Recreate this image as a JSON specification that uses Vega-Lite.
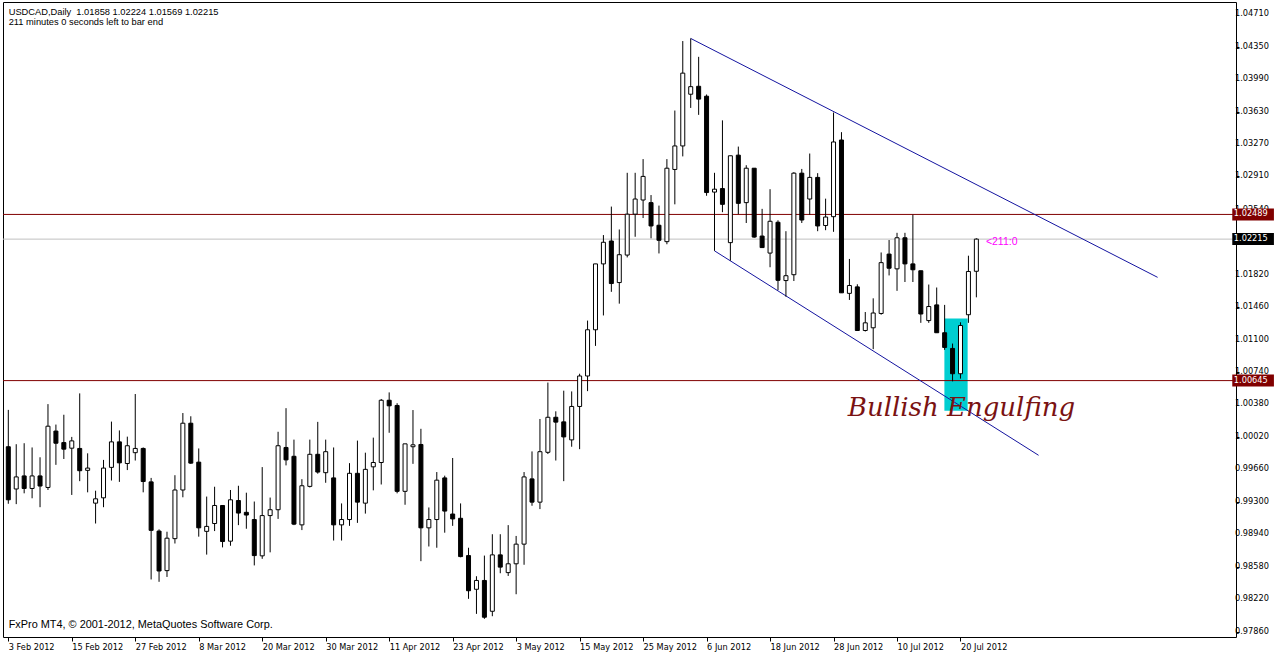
{
"$schema":"https://vega.github.io/schema/vega-lite/v6.json",
"width":1233,"height":635,
"autosize":{"type":"none"},
"padding":{"left":3,"top":2,"right":38,"bottom":20},
"background":"white",
"config":{"view":{"stroke":"black","strokeWidth":1},
 "axis":{"grid":false,"domain":false,"labelFont":"DejaVu Sans","labelFontSize":8.2,"labelColor":"black","tickColor":"black","labelOverlap":false}},
"datasets":{
"candles":[
{"i":0,"o":0.99911,"h":1.00320,"l":0.99278,"c":0.99322},
{"i":1,"o":0.99442,"h":0.99939,"l":0.99274,"c":0.99576},
{"i":2,"o":0.99587,"h":0.99950,"l":0.99394,"c":0.99448},
{"i":3,"o":0.99448,"h":0.99903,"l":0.99339,"c":0.99587},
{"i":4,"o":0.99587,"h":0.99794,"l":0.99240,"c":0.99475},
{"i":5,"o":0.99459,"h":1.00384,"l":0.99431,"c":1.00139},
{"i":6,"o":1.00085,"h":1.00157,"l":0.99710,"c":0.99950},
{"i":7,"o":0.99957,"h":1.00266,"l":0.99775,"c":0.99884},
{"i":8,"o":0.99895,"h":1.00020,"l":0.99376,"c":0.99976},
{"i":9,"o":0.99892,"h":1.00503,"l":0.99529,"c":0.99645},
{"i":10,"o":0.99649,"h":0.99838,"l":0.99405,"c":0.99674},
{"i":11,"o":0.99285,"h":0.99423,"l":0.99059,"c":0.99333},
{"i":12,"o":0.99344,"h":0.99765,"l":0.99240,"c":0.99674},
{"i":13,"o":0.99682,"h":1.00190,"l":0.99536,"c":0.99965},
{"i":14,"o":0.99965,"h":1.00092,"l":0.99521,"c":0.99732},
{"i":15,"o":0.99725,"h":1.00023,"l":0.99652,"c":0.99922},
{"i":16,"o":0.99845,"h":1.00496,"l":0.99758,"c":0.99892},
{"i":17,"o":0.99892,"h":0.99903,"l":0.99405,"c":0.99525},
{"i":18,"o":0.99521,"h":0.99565,"l":0.98438,"c":0.98983},
{"i":19,"o":0.98975,"h":0.98994,"l":0.98412,"c":0.98532},
{"i":20,"o":0.98536,"h":0.98968,"l":0.98466,"c":0.98896},
{"i":21,"o":0.98891,"h":0.99595,"l":0.98837,"c":0.99431},
{"i":22,"o":0.99431,"h":1.00285,"l":0.99350,"c":1.00172},
{"i":23,"o":1.00172,"h":1.00249,"l":0.99721,"c":0.99729},
{"i":24,"o":0.99740,"h":0.99892,"l":0.98913,"c":0.99011},
{"i":25,"o":0.98972,"h":0.99358,"l":0.98714,"c":0.99027},
{"i":26,"o":0.99059,"h":0.99467,"l":0.98975,"c":0.99259},
{"i":27,"o":0.99259,"h":0.99259,"l":0.98794,"c":0.98859},
{"i":28,"o":0.98863,"h":0.99431,"l":0.98812,"c":0.99322},
{"i":29,"o":0.99314,"h":0.99478,"l":0.99041,"c":0.99175},
{"i":30,"o":0.99183,"h":0.99401,"l":0.99001,"c":0.99153},
{"i":31,"o":0.99103,"h":0.99303,"l":0.98594,"c":0.98703},
{"i":32,"o":0.98700,"h":0.99685,"l":0.98667,"c":0.99147},
{"i":33,"o":0.99147,"h":0.99347,"l":0.98739,"c":0.99212},
{"i":34,"o":0.99212,"h":1.00077,"l":0.99110,"c":0.99922},
{"i":35,"o":0.99903,"h":1.00339,"l":0.99704,"c":0.99765},
{"i":36,"o":0.99805,"h":0.99990,"l":0.99041,"c":0.99052},
{"i":37,"o":0.99044,"h":0.99551,"l":0.98986,"c":0.99478},
{"i":38,"o":0.99471,"h":0.99990,"l":0.99459,"c":0.99827},
{"i":39,"o":0.99827,"h":1.00187,"l":0.99612,"c":0.99630},
{"i":40,"o":0.99623,"h":0.99990,"l":0.99511,"c":0.99856},
{"i":41,"o":0.99565,"h":0.99903,"l":0.98870,"c":0.99044},
{"i":42,"o":0.99044,"h":0.99282,"l":0.98870,"c":0.99103},
{"i":43,"o":0.99103,"h":0.99729,"l":0.99033,"c":0.99616},
{"i":44,"o":0.99616,"h":0.99979,"l":0.99066,"c":0.99296},
{"i":45,"o":0.99285,"h":0.99845,"l":0.99169,"c":0.99660},
{"i":46,"o":0.99688,"h":1.00012,"l":0.99427,"c":0.99736},
{"i":47,"o":0.99736,"h":1.00441,"l":0.99492,"c":1.00427},
{"i":48,"o":1.00427,"h":1.00514,"l":1.00066,"c":1.00365},
{"i":49,"o":1.00369,"h":1.00394,"l":0.99394,"c":0.99416},
{"i":50,"o":0.99416,"h":0.99943,"l":0.99267,"c":0.99943},
{"i":51,"o":0.99911,"h":1.00318,"l":0.99721,"c":0.99932},
{"i":52,"o":0.99936,"h":1.00110,"l":0.98641,"c":0.99011},
{"i":53,"o":0.99011,"h":0.99237,"l":0.98804,"c":0.99103},
{"i":54,"o":0.99103,"h":0.99630,"l":0.98790,"c":0.99540},
{"i":55,"o":0.99565,"h":0.99590,"l":0.98957,"c":0.99197},
{"i":56,"o":0.99164,"h":0.99786,"l":0.99033,"c":0.99110},
{"i":57,"o":0.99117,"h":0.99282,"l":0.98684,"c":0.98692},
{"i":58,"o":0.98703,"h":0.98790,"l":0.98223,"c":0.98313},
{"i":59,"o":0.98329,"h":0.98474,"l":0.98056,"c":0.98427},
{"i":60,"o":0.98427,"h":0.98703,"l":0.98001,"c":0.98019},
{"i":61,"o":0.98085,"h":0.98940,"l":0.98030,"c":0.98711},
{"i":62,"o":0.98711,"h":0.98940,"l":0.98507,"c":0.98575},
{"i":63,"o":0.98514,"h":0.99041,"l":0.98477,"c":0.98612},
{"i":64,"o":0.98612,"h":0.98921,"l":0.98274,"c":0.98830},
{"i":65,"o":0.98830,"h":0.99630,"l":0.98601,"c":0.99576},
{"i":66,"o":0.99554,"h":0.99859,"l":0.99256,"c":0.99296},
{"i":67,"o":0.99296,"h":1.00219,"l":0.99219,"c":0.99856},
{"i":68,"o":0.99849,"h":1.00623,"l":0.99830,"c":1.00238},
{"i":69,"o":1.00238,"h":1.00304,"l":0.99758,"c":1.00184},
{"i":70,"o":1.00187,"h":1.00533,"l":0.99529,"c":1.00020},
{"i":71,"o":0.99987,"h":1.00525,"l":0.99911,"c":1.00358},
{"i":72,"o":1.00358,"h":1.00721,"l":0.99884,"c":1.00696},
{"i":73,"o":1.00696,"h":1.01311,"l":1.00528,"c":1.01209},
{"i":74,"o":1.01209,"h":1.01940,"l":1.01030,"c":1.01940},
{"i":75,"o":1.01940,"h":1.02260,"l":1.01368,"c":1.02180},
{"i":76,"o":1.02194,"h":1.02576,"l":1.01630,"c":1.01722},
{"i":77,"o":1.01733,"h":1.02322,"l":1.01499,"c":1.02042},
{"i":78,"o":1.02038,"h":1.02951,"l":1.02012,"c":1.02492},
{"i":79,"o":1.02492,"h":1.02951,"l":1.02241,"c":1.02660},
{"i":80,"o":1.02649,"h":1.03103,"l":1.02449,"c":1.02911},
{"i":81,"o":1.02620,"h":1.02704,"l":1.02224,"c":1.02361},
{"i":82,"o":1.02369,"h":1.02587,"l":1.02056,"c":1.02202},
{"i":83,"o":1.02187,"h":1.03103,"l":1.02158,"c":1.03002},
{"i":84,"o":1.02988,"h":1.03642,"l":1.02601,"c":1.03249},
{"i":85,"o":1.03249,"h":1.04413,"l":1.03133,"c":1.04057},
{"i":86,"o":1.03823,"h":1.04442,"l":1.03671,"c":1.03907},
{"i":87,"o":1.03911,"h":1.04238,"l":1.03594,"c":1.03769},
{"i":88,"o":1.03801,"h":1.03820,"l":1.02696,"c":1.02732},
{"i":89,"o":1.02737,"h":1.02951,"l":1.02085,"c":1.02769},
{"i":90,"o":1.02776,"h":1.03533,"l":1.02514,"c":1.02601},
{"i":91,"o":1.02176,"h":1.03140,"l":1.01976,"c":1.03140},
{"i":92,"o":1.03147,"h":1.03242,"l":1.02492,"c":1.02612},
{"i":93,"o":1.02620,"h":1.03035,"l":1.02394,"c":1.03002},
{"i":94,"o":1.03002,"h":1.03002,"l":1.02230,"c":1.02238},
{"i":95,"o":1.02249,"h":1.02551,"l":1.02121,"c":1.02121},
{"i":96,"o":1.02060,"h":1.02769,"l":1.01903,"c":1.02413},
{"i":97,"o":1.02402,"h":1.02424,"l":1.01649,"c":1.01758},
{"i":98,"o":1.01755,"h":1.02303,"l":1.01576,"c":1.01809},
{"i":99,"o":1.01820,"h":1.02958,"l":1.01750,"c":1.02947},
{"i":100,"o":1.02947,"h":1.02994,"l":1.02394,"c":1.02427},
{"i":101,"o":1.02660,"h":1.03165,"l":1.02486,"c":1.02900},
{"i":102,"o":1.02900,"h":1.02947,"l":1.02303,"c":1.02361},
{"i":103,"o":1.02366,"h":1.02664,"l":1.02314,"c":1.02460},
{"i":104,"o":1.02464,"h":1.03620,"l":1.02296,"c":1.03293},
{"i":105,"o":1.03315,"h":1.03402,"l":1.01619,"c":1.01619},
{"i":106,"o":1.01613,"h":1.01995,"l":1.01540,"c":1.01700},
{"i":107,"o":1.01685,"h":1.01714,"l":1.01201,"c":1.01201},
{"i":108,"o":1.01201,"h":1.01406,"l":1.01190,"c":1.01286},
{"i":109,"o":1.01231,"h":1.01558,"l":1.00994,"c":1.01395},
{"i":110,"o":1.01390,"h":1.02067,"l":1.01376,"c":1.01954},
{"i":111,"o":1.02049,"h":1.02205,"l":1.01812,"c":1.01892},
{"i":112,"o":1.01885,"h":1.02285,"l":1.01641,"c":1.02230},
{"i":113,"o":1.02230,"h":1.02285,"l":1.01739,"c":1.01940},
{"i":114,"o":1.01940,"h":1.02486,"l":1.01739,"c":1.01875},
{"i":115,"o":1.01864,"h":1.01864,"l":1.01286,"c":1.01384},
{"i":116,"o":1.01311,"h":1.01711,"l":1.01286,"c":1.01467},
{"i":117,"o":1.01485,"h":1.01678,"l":1.01176,"c":1.01176},
{"i":118,"o":1.01176,"h":1.01485,"l":1.00986,"c":1.01013},
{"i":119,"o":1.01002,"h":1.01056,"l":1.00637,"c":1.00721},
{"i":120,"o":1.00721,"h":1.01292,"l":1.00667,"c":1.01256},
{"i":121,"o":1.01376,"h":1.02031,"l":1.01286,"c":1.01856},
{"i":122,"o":1.01858,"h":1.02224,"l":1.01569,"c":1.02215}
],
"ylabels":[{"p":1.0471,"t":"1.04710"},{"p":1.0435,"t":"1.04350"},{"p":1.0399,"t":"1.03990"},{"p":1.0363,"t":"1.03630"},{"p":1.0327,"t":"1.03270"},{"p":1.0291,"t":"1.02910"},{"p":1.0254,"t":"1.02540"},{"p":1.0182,"t":"1.01820"},{"p":1.0146,"t":"1.01460"},{"p":1.011,"t":"1.01100"},{"p":1.0074,"t":"1.00740"},{"p":1.0038,"t":"1.00380"},{"p":1.0002,"t":"1.00020"},{"p":0.9966,"t":"0.99660"},{"p":0.993,"t":"0.99300"},{"p":0.9894,"t":"0.98940"},{"p":0.9858,"t":"0.98580"},{"p":0.9822,"t":"0.98220"},{"p":0.9786,"t":"0.97860"}],
"levels":[{"p":1.02489},{"p":1.00645}],
"bid":[{"p":1.02215}],
"channel":[{"i":86,"p":1.04442,"i2":144.84,"p2":1.01791},{"i":89,"p":1.02085,"i2":129.84,"p2":0.99816}],
"pattern":[{"i":117.97,"p":1.00310,"i2":120.9,"p2":1.01333}],
"header":[{"i":0.05,"p":1.04698,"t":"USDCAD,Daily\u00a0 1.01858 1.02224 1.01569 1.02215"},{"i":0.05,"p":1.04589,"t":"211 minutes 0 seconds left to bar end"}],
"copyright":[{"i":0.05,"p":0.97895,"t":"FxPro MT4, © 2001-2012, MetaQuotes Software Corp."}],
"timer":[{"i":123.2,"p":1.02183,"t":"<211:0"}],
"note":[{"i":105.8,"p":1.00252,"t":"Bullish Engulfing"}]
},
"layer":[
{"data":{"name":"pattern"},"mark":{"type":"rect","color":"#00CED1"},
 "encoding":{
  "x":{"field":"i","type":"quantitative","title":null,"scale":{"domain":[-0.0375,154.09],"nice":false,"zero":false},
   "axis":{"orient":"bottom","values":[0,8,16,24,32,40,48,56,64,72,80,88,96,104,112,120],
    "labelExpr":"['3 Feb 2012','15 Feb 2012','27 Feb 2012','8 Mar 2012','20 Mar 2012','30 Mar 2012','11 Apr 2012','23 Apr 2012','3 May 2012','15 May 2012','25 May 2012','6 Jun 2012','18 Jun 2012','28 Jun 2012','10 Jul 2012','20 Jul 2012'][round(datum.value/8)]",
    "labelAlign":"left","labelPadding":2,"tickSize":4,"labelFlush":false,"labelOverlap":false,"labelBound":false,"title":null}},
  "x2":{"field":"i2"},
  "y":{"field":"p","type":"quantitative","title":null,"scale":{"domain":[0.97855,1.04791],"nice":false,"zero":false},
   "axis":{"orient":"right","values":[1.0471,1.0435,1.0399,1.0363,1.0327,1.0291,1.0254,1.0218,1.0182,1.0146,1.011,1.0074,1.0038,1.0002,0.9966,0.993,0.9894,0.9858,0.9822,0.9786],
    "labels":false,"tickSize":3,"title":null}},
  "y2":{"field":"p2"}}},
{"data":{"name":"levels"},"mark":{"type":"rule","color":"#800000","strokeWidth":1},
 "encoding":{"y":{"field":"p","type":"quantitative","title":null,"scale":{"domain":[0.97855,1.04791],"nice":false,"zero":false}}}},
{"data":{"name":"bid"},"mark":{"type":"rule","color":"#c0c0c0","strokeWidth":1},
 "encoding":{"y":{"field":"p","type":"quantitative","title":null,"scale":{"domain":[0.97855,1.04791],"nice":false,"zero":false}}}},
{"data":{"name":"channel"},"mark":{"type":"rule","color":"#1414a0","strokeWidth":1},
 "encoding":{
  "x":{"field":"i","type":"quantitative","title":null,"scale":{"domain":[-0.0375,154.09],"nice":false,"zero":false}},
  "x2":{"field":"i2"},
  "y":{"field":"p","type":"quantitative","title":null,"scale":{"domain":[0.97855,1.04791],"nice":false,"zero":false}},
  "y2":{"field":"p2"}}},
{"data":{"name":"candles"},"mark":{"type":"rule","color":"black","strokeWidth":1},
 "encoding":{
  "x":{"field":"i","type":"quantitative","title":null,"scale":{"domain":[-0.0375,154.09],"nice":false,"zero":false}},
  "y":{"field":"l","type":"quantitative","title":null,"scale":{"domain":[0.97855,1.04791],"nice":false,"zero":false}},
  "y2":{"field":"h"}}},
{"data":{"name":"candles"},"mark":{"type":"bar","size":4,"stroke":"black","strokeWidth":1},
 "encoding":{
  "x":{"field":"i","type":"quantitative","title":null,"scale":{"domain":[-0.0375,154.09],"nice":false,"zero":false}},
  "y":{"field":"o","type":"quantitative","title":null,"scale":{"domain":[0.97855,1.04791],"nice":false,"zero":false}},
  "y2":{"field":"c"},
  "fill":{"condition":{"test":"datum.c >= datum.o","value":"white"},"value":"black"}}},
{"data":{"name":"ylabels"},"mark":{"type":"text","align":"left","baseline":"middle","font":"DejaVu Sans","fontSize":8.2,"color":"black"},
 "encoding":{
  "x":{"datum":154.6,"type":"quantitative","scale":{"domain":[-0.0375,154.09],"nice":false,"zero":false}},
  "y":{"field":"p","type":"quantitative","title":null,"scale":{"domain":[0.97855,1.04791],"nice":false,"zero":false}},
  "text":{"field":"t"}}},
{"data":{"name":"header"},"mark":{"type":"text","align":"left","baseline":"alphabetic","font":"Liberation Sans","fontSize":9.3,"color":"black"},
 "encoding":{
  "x":{"field":"i","type":"quantitative","title":null,"scale":{"domain":[-0.0375,154.09],"nice":false,"zero":false}},
  "y":{"field":"p","type":"quantitative","title":null,"scale":{"domain":[0.97855,1.04791],"nice":false,"zero":false}},
  "text":{"field":"t"}}},
{"data":{"name":"copyright"},"mark":{"type":"text","align":"left","baseline":"alphabetic","font":"Liberation Sans","fontSize":10.9,"color":"black"},
 "encoding":{
  "x":{"field":"i","type":"quantitative","title":null,"scale":{"domain":[-0.0375,154.09],"nice":false,"zero":false}},
  "y":{"field":"p","type":"quantitative","title":null,"scale":{"domain":[0.97855,1.04791],"nice":false,"zero":false}},
  "text":{"field":"t"}}},
{"data":{"name":"timer"},"mark":{"type":"text","align":"left","baseline":"middle","font":"Liberation Sans","fontSize":10.5,"color":"#ff00ff"},
 "encoding":{
  "x":{"field":"i","type":"quantitative","title":null,"scale":{"domain":[-0.0375,154.09],"nice":false,"zero":false}},
  "y":{"field":"p","type":"quantitative","title":null,"scale":{"domain":[0.97855,1.04791],"nice":false,"zero":false}},
  "text":{"field":"t"}}},
{"data":{"name":"note"},"mark":{"type":"text","align":"left","baseline":"alphabetic","font":"DejaVu Serif","fontStyle":"italic","fontSize":26,"color":"#7a1212"},
 "encoding":{
  "x":{"field":"i","type":"quantitative","title":null,"scale":{"domain":[-0.0375,154.09],"nice":false,"zero":false}},
  "y":{"field":"p","type":"quantitative","title":null,"scale":{"domain":[0.97855,1.04791],"nice":false,"zero":false}},
  "text":{"field":"t"}}},
{"data":{"name":"levels"},"mark":{"type":"bar","size":12,"color":"#800000"},
 "encoding":{
  "x":{"datum":154.25,"type":"quantitative","scale":{"domain":[-0.0375,154.09],"nice":false,"zero":false}},
  "x2":{"datum":159.5},
  "y":{"field":"p","type":"quantitative","title":null,"scale":{"domain":[0.97855,1.04791],"nice":false,"zero":false}}}},
{"data":{"name":"bid"},"mark":{"type":"bar","size":12,"color":"black"},
 "encoding":{
  "x":{"datum":154.25,"type":"quantitative","scale":{"domain":[-0.0375,154.09],"nice":false,"zero":false}},
  "x2":{"datum":159.5},
  "y":{"field":"p","type":"quantitative","title":null,"scale":{"domain":[0.97855,1.04791],"nice":false,"zero":false}}}},
{"data":{"name":"levels"},"mark":{"type":"text","align":"left","baseline":"middle","font":"DejaVu Sans","fontSize":8.2,"color":"white"},
 "encoding":{
  "x":{"datum":154.45,"type":"quantitative","scale":{"domain":[-0.0375,154.09],"nice":false,"zero":false}},
  "y":{"field":"p","type":"quantitative","title":null,"scale":{"domain":[0.97855,1.04791],"nice":false,"zero":false}},
  "text":{"field":"p","type":"quantitative","format":".5f"}}},
{"data":{"name":"bid"},"mark":{"type":"text","align":"left","baseline":"middle","font":"DejaVu Sans","fontSize":8.2,"color":"white"},
 "encoding":{
  "x":{"datum":154.45,"type":"quantitative","scale":{"domain":[-0.0375,154.09],"nice":false,"zero":false}},
  "y":{"field":"p","type":"quantitative","title":null,"scale":{"domain":[0.97855,1.04791],"nice":false,"zero":false}},
  "text":{"field":"p","type":"quantitative","format":".5f"}}}
]
}
